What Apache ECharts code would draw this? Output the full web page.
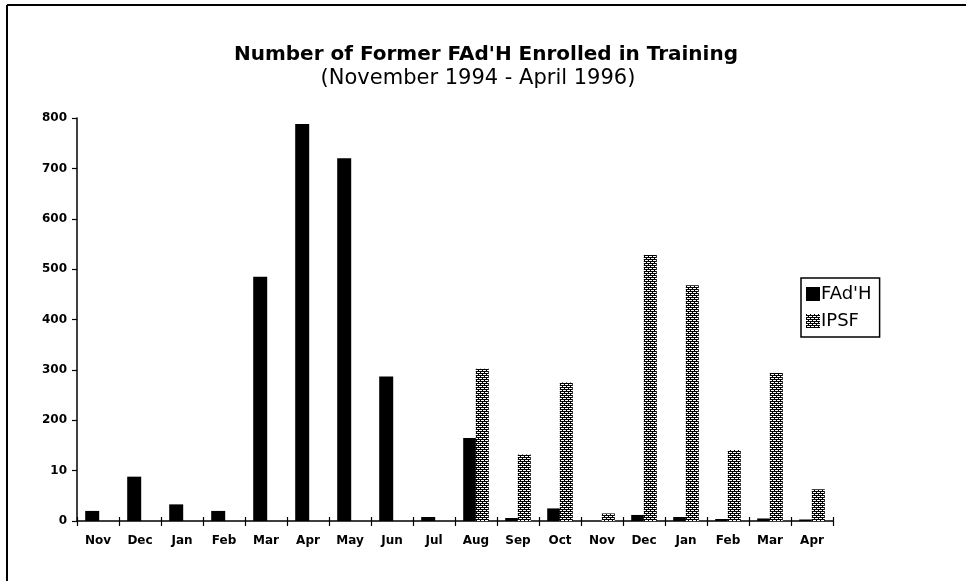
<!DOCTYPE html>
<html>
<head>
<meta charset="utf-8">
<script src="https://cdn.jsdelivr.net/npm/echarts@6/dist/echarts.min.js"></script>
<style>
  html, body { margin: 0; padding: 0; background: #fff; }
  #chart { width: 969px; height: 581px; }
</style>
</head>
<body>
<div id="chart"></div>
<script>
    // months Nov 1994 - Apr 1996
    var months = ['Nov', 'Dec', 'Jan', 'Feb', 'Mar', 'Apr', 'May', 'Jun', 'Jul',
        'Aug', 'Sep', 'Oct', 'Nov', 'Dec', 'Jan', 'Feb', 'Mar', 'Apr']
    var fadh = [20, 88, 33, 20, 485, 788, 720, 287, 8, 165, 6, 25, 0, 12, 8, 4, 5, 3]
    var ipsf = [0, 0, 0, 0, 0, 0, 0, 0, 0, 302, 132, 275, 15, 528, 468, 141, 294, 63]
    // the scanned axis prints "10" where 100 should be
    var yTickLabels = ['0', '10', '200', '300', '400', '500', '600', '700', '800']

    // dithered grey like the photocopy
    function hatch() {
        var c = document.createElement('canvas')
        c.width = 4
        c.height = 4
        var ctx = c.getContext('2d')
        ctx.fillStyle = '#fff'
        ctx.fillRect(0, 0, 4, 4)
        ctx.fillStyle = '#000'
        for (var x = 0; x < 4; x++) {
            for (var y = 0; y < 4; y++) {
                if ((x + y) % 4 === 0 || (x - y + 4) % 4 === 0 || (x + y) % 2 === 1 && x % 2 === 0) {
                    ctx.fillRect(x, y, 1, 1)
                }
            }
        }
        return {image: c, repeat: 'repeat'}
    }

    var axisFont = {fontFamily: 'DejaVu Sans', fontWeight: 'bold', fontSize: 12, color: '#000'}

    var chart = echarts.init(document.getElementById('chart'))
    var pattern = hatch()
    var option = {
        backgroundColor: '#fff',
        animation: false,
        title: [
            {
                text: "Number of Former FAd'H Enrolled in Training",
                left: 481,
                textAlign: 'center',
                top: 40,
                textStyle: {fontFamily: 'DejaVu Sans', fontWeight: 'bold', fontSize: 20, color: '#000'}
            },
            {
                text: '(November 1994 - April 1996)',
                left: 473,
                textAlign: 'center',
                top: 63,
                textStyle: {fontFamily: 'DejaVu Sans', fontWeight: 'normal', fontSize: 21, color: '#000'}
            }
        ],
        legend: {
            orient: 'vertical',
            left: 801,
            top: 278,
            padding: [7, 8, 7, 5],
            itemGap: 9,
            itemWidth: 14,
            itemHeight: 14,
            icon: 'rect',
            borderColor: '#000',
            borderWidth: 1.5,
            borderRadius: 0,
            textStyle: {fontFamily: 'DejaVu Sans', fontSize: 18, color: '#000', padding: [0, 0, 0, -4]},
            data: ["FAd'H", 'IPSF']
        },
        grid: {
            left: 77,
            right: 136,
            top: 118,
            bottom: 60
        },
        xAxis: [
            {
                type: 'category',
                data: months,
                axisLine: {lineStyle: {color: '#000', width: 1.5}},
                axisTick: {show: true, length: 5, lineStyle: {color: '#000', width: 1.2}},
                axisLabel: Object.assign({margin: 14}, axisFont)
            },
            {
                // inner half of the crossing tick marks
                type: 'category',
                data: months,
                position: 'bottom',
                axisLine: {show: false},
                axisTick: {show: true, inside: true, length: 4, lineStyle: {color: '#000', width: 1.2}},
                axisLabel: {show: false}
            }
        ],
        yAxis: {
            type: 'value',
            min: 0,
            max: 800,
            interval: 100,
            splitLine: {show: false},
            axisLine: {show: true, lineStyle: {color: '#000', width: 1.5}},
            axisTick: {show: true, length: 5, lineStyle: {color: '#000', width: 1.2}},
            axisLabel: Object.assign({
                margin: 10,
                formatter: function (v) {
                    return yTickLabels[Math.round(v / 100)]
                }
            }, axisFont)
        },
        series: [
            {
                name: "FAd'H",
                type: 'bar',
                data: fadh,
                barWidth: 14,
                barGap: '-10%',
                itemStyle: {color: '#000'}
            },
            {
                name: 'IPSF',
                type: 'bar',
                data: ipsf,
                barWidth: 13,
                itemStyle: {color: pattern}
            }
        ],
        graphic: [
            {type: 'line', shape: {x1: 7, y1: 5, x2: 7, y2: 581}, style: {stroke: '#000', lineWidth: 2}},
            {type: 'line', shape: {x1: 7, y1: 5, x2: 966, y2: 5}, style: {stroke: '#000', lineWidth: 2}}
        ]
    }
    chart.setOption(option)
</script>
</body>
</html>
